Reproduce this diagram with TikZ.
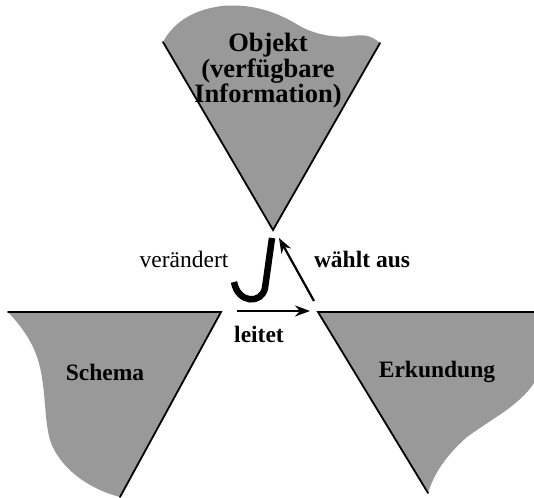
\documentclass[tikz,border=0pt]{standalone}
\usepackage{fontspec}
\setmainfont{Liberation Serif}
\usetikzlibrary{arrows.meta}
\begin{document}
\begin{tikzpicture}[x=1pt,y=-1pt,
  areafill/.style={fill=black!40},
  edge/.style={line width=1.8pt, line cap=round},
  lbl/.style={font=\fontsize{23.5}{23}\selectfont\bfseries, inner sep=0pt},
  lblbig/.style={font=\fontsize{26.5}{23.5}\selectfont\bfseries, inner sep=0pt},
  lblreg/.style={font=\fontsize{23.5}{23}\selectfont, inner sep=0pt},
  arr/.style={line width=2.2pt, -{Stealth[length=15pt,width=11pt]}},
  hook/.style={line width=6.5pt}]
\useasboundingbox (0,0) rectangle (534,497);
% top triangle (Objekt)
\fill[areafill] (163,42) .. controls (172,25) and (190,10) .. (222,6)
  .. controls (255,3) and (280,14) .. (298,25)
  .. controls (315,35) and (335,38) .. (352,36)
  .. controls (365,34) and (372,36) .. (380,43) -- (273,230) -- cycle;
\draw[edge] (163,42) -- (273,230) -- (380,43);
% bottom left triangle (Schema)
\fill[areafill] (8,312) -- (221,312) -- (120,497)
  .. controls (85,488) and (58,465) .. (50,440)
  .. controls (44,420) and (46,385) .. (38,360)
  .. controls (32,340) and (20,325) .. (8,312) -- cycle;
\draw[edge] (8,312) -- (221,312) -- (120,497);
% bottom right triangle (Erkundung)
\fill[areafill] (318,312) -- (534,312) -- (534,383)
  .. controls (520,405) and (490,420) .. (467,437)
  .. controls (450,452) and (435,470) .. (428,493) -- cycle;
\draw[edge] (534,312) -- (318,312) -- (428,493);
% labels
\node[lblbig, align=center] (obj) at (268,71) {Objekt\\(verfügbare\\Information)};
\node[lbl] (schema) at (105,372) {Schema};
\node[lbl] (erk) at (437,372) {Erkundung};
\node[lblreg] (ver) at (184,259) {verändert};
\node[lbl] (wahl) at (362,259) {wählt aus};
\node[lbl] (leit) at (259,334) {leitet};
% connectors
\coordinate (ls) at (237,311);
\coordinate (le) at (310,311);
\coordinate (ws) at (314,301);
\coordinate (we) at (279,238);
\coordinate (js) at (272,238);
\coordinate (jm) at (265,288);
\coordinate (je) at (234,282);
\draw[arr] (ls) -- (le);
\draw[arr] (ws) -- (we);
\draw[hook] (js) -- (jm) .. controls (262,304) and (238,304) .. (je);
\end{tikzpicture}
\end{document}
